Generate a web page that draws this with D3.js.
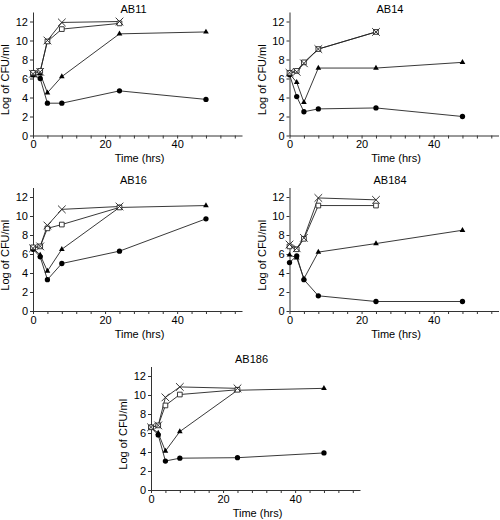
<!DOCTYPE html>
<html><head><meta charset="utf-8">
<script src="https://cdn.jsdelivr.net/npm/d3@7"></script>
<style>body{margin:0;background:#fff}svg{display:block}text{font-family:"Liberation Sans",Arial,sans-serif;fill:#000}</style>
</head><body><div id="chart"></div>
<script>
const timesFull = [0, 2, 4, 8, 24, 48];
const timesShort = [0, 2, 4, 8, 24];
const panelNames = ["AB11", "AB14", "AB16", "AB184", "AB186"];
const circleVals = [
  [6.4, 6.0, 3.4, 3.4, 4.7, 3.8],
  [6.4, 4.1, 2.5, 2.8, 2.9, 2.0],
  [6.5, 5.7, 3.3, 5.0, 6.3, 9.7],
  [5.1, 5.8, 3.3, 1.6, 1.0, 1.0],
  [6.6, 5.8, 3.05, 3.35, 3.4, 3.9]
];
const triangleVals = [
  [6.3, 6.5, 4.5, 6.2, 10.7, 10.9],
  [6.5, 5.6, 3.5, 7.1, 7.1, 7.7],
  [6.6, 5.9, 4.2, 6.5, 10.9, 11.1],
  [5.9, 5.6, 3.4, 6.2, 7.1, 8.5],
  [6.6, 6.0, 4.1, 6.15, 10.5, 10.7]
];
const squareVals = [
  [6.6, 6.8, 9.9, 11.2, 11.8],
  [6.6, 6.8, 7.7, 9.1, 10.9],
  [6.7, 6.8, 8.7, 9.1, 10.9],
  [6.8, 6.5, 7.6, 11.1, 11.1],
  [6.6, 6.8, 8.9, 10.05, 10.55]
];
const crossVals = [
  [6.5, 6.7, 10.0, 11.9, 12.0],
  [6.6, 6.7, 7.6, 9.1, 10.9],
  [6.6, 6.8, 9.0, 10.7, 11.0],
  [7.0, 6.6, 7.7, 11.9, 11.7],
  [6.6, 6.8, 9.75, 10.85, 10.7]
];
const yTicks = [0, 2, 4, 6, 8, 10, 12];
const xTicks = d3.range(0, 57, 4);
const xLabelTicks = [0, 20, 40];
const xTitle = "Time (hrs)";
const yTitle = "Log of CFU/ml";

// layout (origin of each plot = data (0,0)); title baseline offset from plot top
const origins = [[33, 135.5], [289.5, 135.5], [33, 311], [289.5, 311], [151, 490]];
const titleDy = [0.5, 0.5, -3.5, -3.5, -3.5];
const W = 209, H = 123.5;

const svg = d3.select("#chart").append("svg").attr("width", 500).attr("height", 520);

panelNames.forEach((name, i) => {
  const [ox, oy] = origins[i];
  const g = svg.append("g").attr("transform", `translate(${ox},${oy - H})`);
  const x = d3.scaleLinear().domain([0, 58]).range([0, W]);
  const y = d3.scaleLinear().domain([0, 13]).range([H, 0]);

  const ya = g.append("g").call(d3.axisLeft(y).tickValues(yTicks).tickSize(3).tickSizeOuter(0).tickPadding(2));
  const xa = g.append("g").attr("transform", `translate(0,${H})`)
    .call(d3.axisBottom(x).tickValues(xTicks).tickSize(3).tickSizeOuter(0).tickPadding(2)
      .tickFormat(d => xLabelTicks.includes(d) ? d : ""));
  [ya, xa].forEach(a => {
    a.selectAll("path,line").attr("stroke", "#333").attr("stroke-width", 1);
    a.selectAll("text").attr("font-size", 11).style("font-family", '"Liberation Sans",Arial,sans-serif');
  });

  g.append("text").attr("x", W / 2 - 4).attr("y", titleDy[i]).attr("text-anchor", "middle")
    .attr("font-size", 11).text(name);
  g.append("text").attr("x", W / 2 + 2).attr("y", H + 26.5).attr("text-anchor", "middle")
    .attr("font-size", 11).text(xTitle);
  g.append("text").attr("transform", `translate(${-24},${H / 2 + 6}) rotate(-90)`)
    .attr("text-anchor", "middle").attr("font-size", 11).text(yTitle);

  const line = d3.line().x(d => x(d[0])).y(d => y(d[1]));
  const series = [
    {t: timesFull, v: circleVals[i], sym: "circle"},
    {t: timesFull, v: triangleVals[i], sym: "triangle"},
    {t: timesShort, v: squareVals[i], sym: "square"},
    {t: timesShort, v: crossVals[i], sym: "cross"}
  ];
  series.forEach(s => {
    const pts = s.t.map((t, k) => [t, s.v[k]]);
    g.append("path").datum(pts).attr("d", line).attr("fill", "none")
      .attr("stroke", "#222").attr("stroke-width", 0.9);
  });
  series.forEach(s => {
    const pts = s.t.map((t, k) => [t, s.v[k]]);
    const sel = g.append("g").selectAll("path").data(pts).join("path")
      .attr("transform", d => `translate(${x(d[0])},${y(d[1])})`);
    if (s.sym === "circle") {
      sel.attr("d", d3.symbol(d3.symbolCircle, 22)).attr("fill", "#000");
    } else if (s.sym === "triangle") {
      sel.attr("d", d3.symbol(d3.symbolTriangle, 14)).attr("fill", "#000");
    } else if (s.sym === "square") {
      sel.attr("d", d3.symbol(d3.symbolSquare, 22)).attr("fill", "#fff")
        .attr("stroke", "#222").attr("stroke-width", 0.9);
    } else {
      sel.attr("d", d3.symbol(d3.symbolTimes, 40)).attr("fill", "none")
        .attr("stroke", "#222").attr("stroke-width", 0.9);
    }
  });
});
</script></body></html>
